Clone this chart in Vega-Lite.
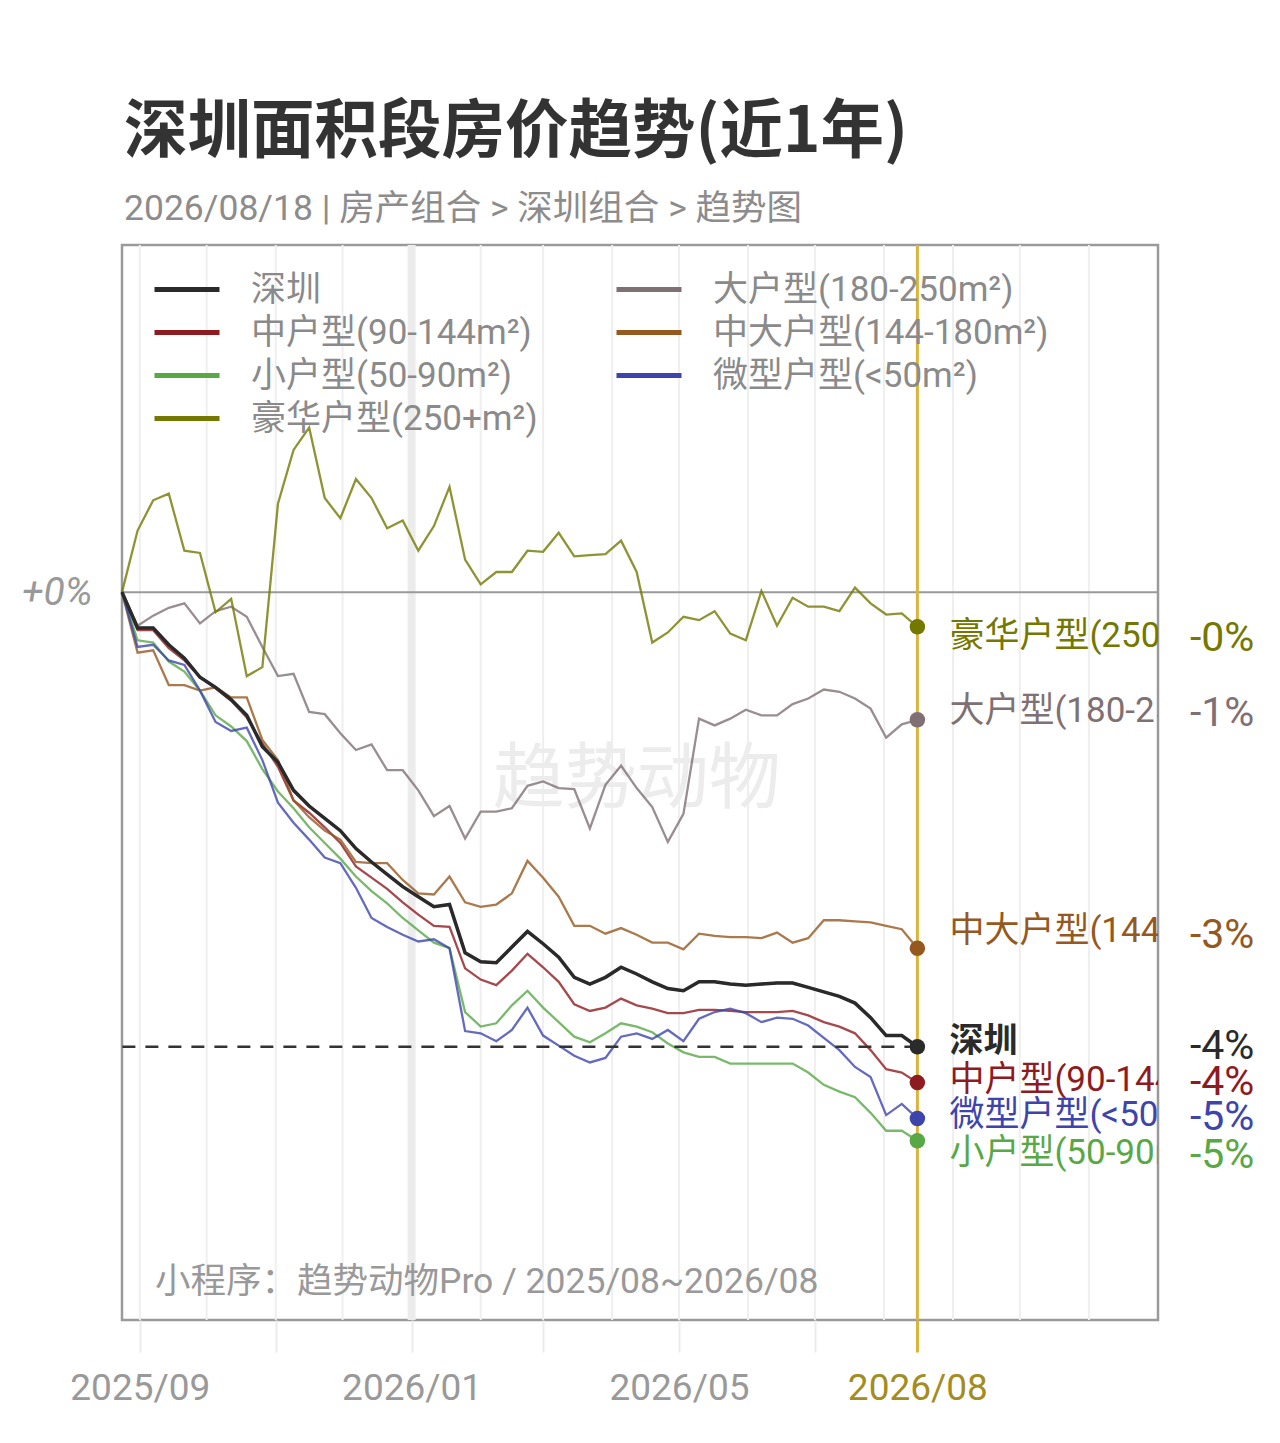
{
"$schema": "https://vega.github.io/schema/vega-lite/v6.json",
"width": 1036, "height": 1075,
"autosize": "none",
"padding": {"left": 122, "top": 245, "right": 122, "bottom": 123},
"background": "white",
"config": {
  "font": "Roboto, 'Noto Sans CJK SC', sans-serif",
  "view": {"stroke": "#9a9a9a", "strokeWidth": 2.5}
},
"title": {"text": "深圳面积段房价趋势(近1年)", "subtitle": "2026/08/18 | 房产组合 > 深圳组合 > 趋势图", "anchor": "start", "frame": "group", "orient": "top", "offset": 13, "font": "'Noto Sans CJK SC', sans-serif", "fontSize": 63.5, "fontWeight": "bold", "color": "#333333", "subtitleFont": "Roboto, 'Noto Sans CJK SC', sans-serif", "subtitleFontSize": 35.5, "subtitleColor": "#8c8c8c", "subtitlePadding": 26, "dx": 2},
"datasets": {
  "series": [
    {"k": "sz", "name": "深圳"},
    {"k": "big", "name": "大户型(180-250m²)"},
    {"k": "mid", "name": "中户型(90-144m²)"},
    {"k": "midbig", "name": "中大户型(144-180m²)"},
    {"k": "small", "name": "小户型(50-90m²)"},
    {"k": "micro", "name": "微型户型(<50m²)"},
    {"k": "lux", "name": "豪华户型(250+m²)"}
  ],
  "months": [
    {"d": "2025-09-01"}, {"d": "2025-10-01"}, {"d": "2025-11-01"}, {"d": "2025-12-01"}, {"d": "2026-01-01"}, {"d": "2026-02-01"}, {"d": "2026-03-01"}, {"d": "2026-04-01"}, {"d": "2026-05-01"}, {"d": "2026-06-01"}, {"d": "2026-07-01"}, {"d": "2026-08-01"}, {"d": "2026-09-01"}, {"d": "2026-10-01"}, {"d": "2026-11-01"}
  ],
  "main": [
    {"d": "2025-08-24", "sz": 0, "mid": 0, "small": 0, "micro": 0, "midbig": 0, "big": 0, "lux": 0},
    {"d": "2025-08-31", "sz": -0.32, "mid": -0.34, "small": -0.43, "micro": -0.49, "midbig": -0.54, "big": -0.30, "lux": 0.55},
    {"d": "2025-09-07", "sz": -0.32, "mid": -0.34, "small": -0.45, "micro": -0.47, "midbig": -0.52, "big": -0.21, "lux": 0.82},
    {"d": "2025-09-14", "sz": -0.47, "mid": -0.50, "small": -0.62, "micro": -0.61, "midbig": -0.83, "big": -0.14, "lux": 0.88},
    {"d": "2025-09-21", "sz": -0.59, "mid": -0.61, "small": -0.71, "micro": -0.65, "midbig": -0.83, "big": -0.10, "lux": 0.37},
    {"d": "2025-09-28", "sz": -0.76, "mid": -0.76, "small": -0.88, "micro": -0.88, "midbig": -0.88, "big": -0.28, "lux": 0.35},
    {"d": "2025-10-05", "sz": -0.85, "mid": -0.86, "small": -1.10, "micro": -1.16, "midbig": -0.85, "big": -0.17, "lux": -0.18},
    {"d": "2025-10-12", "sz": -0.96, "mid": -0.97, "small": -1.20, "micro": -1.24, "midbig": -0.94, "big": -0.13, "lux": -0.06},
    {"d": "2025-10-19", "sz": -1.10, "mid": -1.12, "small": -1.33, "micro": -1.21, "midbig": -0.94, "big": -0.22, "lux": -0.75},
    {"d": "2025-10-26", "sz": -1.38, "mid": -1.35, "small": -1.58, "micro": -1.50, "midbig": -1.32, "big": -0.49, "lux": -0.67},
    {"d": "2025-11-02", "sz": -1.52, "mid": -1.56, "small": -1.78, "micro": -1.88, "midbig": -1.50, "big": -0.75, "lux": 0.79},
    {"d": "2025-11-09", "sz": -1.77, "mid": -1.86, "small": -1.93, "micro": -2.06, "midbig": -1.86, "big": -0.73, "lux": 1.27},
    {"d": "2025-11-16", "sz": -1.91, "mid": -1.97, "small": -2.10, "micro": -2.21, "midbig": -2.01, "big": -1.07, "lux": 1.47},
    {"d": "2025-11-23", "sz": -2.02, "mid": -2.10, "small": -2.24, "micro": -2.37, "midbig": -2.13, "big": -1.09, "lux": 0.84},
    {"d": "2025-11-30", "sz": -2.13, "mid": -2.24, "small": -2.38, "micro": -2.42, "midbig": -2.21, "big": -1.26, "lux": 0.66},
    {"d": "2025-12-07", "sz": -2.29, "mid": -2.45, "small": -2.54, "micro": -2.64, "midbig": -2.41, "big": -1.41, "lux": 1.01},
    {"d": "2025-12-14", "sz": -2.41, "mid": -2.55, "small": -2.67, "micro": -2.91, "midbig": -2.42, "big": -1.36, "lux": 0.84},
    {"d": "2025-12-21", "sz": -2.52, "mid": -2.65, "small": -2.78, "micro": -2.99, "midbig": -2.42, "big": -1.59, "lux": 0.57},
    {"d": "2025-12-28", "sz": -2.63, "mid": -2.77, "small": -2.91, "micro": -3.06, "midbig": -2.57, "big": -1.59, "lux": 0.64},
    {"d": "2026-01-04", "sz": -2.72, "mid": -2.88, "small": -3.02, "micro": -3.12, "midbig": -2.69, "big": -1.77, "lux": 0.37},
    {"d": "2026-01-11", "sz": -2.81, "mid": -2.98, "small": -3.13, "micro": -3.10, "midbig": -2.70, "big": -2.00, "lux": 0.59},
    {"d": "2026-01-18", "sz": -2.79, "mid": -2.99, "small": -3.18, "micro": -3.18, "midbig": -2.54, "big": -1.91, "lux": 0.94},
    {"d": "2026-01-25", "sz": -3.22, "mid": -3.36, "small": -3.75, "micro": -3.92, "midbig": -2.77, "big": -2.20, "lux": 0.29},
    {"d": "2026-02-01", "sz": -3.30, "mid": -3.46, "small": -3.88, "micro": -3.94, "midbig": -2.81, "big": -1.96, "lux": 0.07},
    {"d": "2026-02-08", "sz": -3.31, "mid": -3.51, "small": -3.85, "micro": -4.01, "midbig": -2.79, "big": -1.96, "lux": 0.18},
    {"d": "2026-02-15", "sz": -3.17, "mid": -3.38, "small": -3.69, "micro": -3.91, "midbig": -2.69, "big": -1.93, "lux": 0.18},
    {"d": "2026-02-22", "sz": -3.03, "mid": -3.23, "small": -3.56, "micro": -3.71, "midbig": -2.40, "big": -1.73, "lux": 0.37},
    {"d": "2026-03-01", "sz": -3.14, "mid": -3.35, "small": -3.71, "micro": -3.96, "midbig": -2.55, "big": -1.69, "lux": 0.36},
    {"d": "2026-03-08", "sz": -3.26, "mid": -3.48, "small": -3.84, "micro": -4.05, "midbig": -2.72, "big": -1.75, "lux": 0.53},
    {"d": "2026-03-15", "sz": -3.44, "mid": -3.68, "small": -3.97, "micro": -4.14, "midbig": -2.98, "big": -1.76, "lux": 0.32},
    {"d": "2026-03-22", "sz": -3.50, "mid": -3.74, "small": -4.02, "micro": -4.20, "midbig": -2.98, "big": -2.11, "lux": 0.33},
    {"d": "2026-03-29", "sz": -3.44, "mid": -3.71, "small": -3.94, "micro": -4.16, "midbig": -3.05, "big": -1.72, "lux": 0.34},
    {"d": "2026-04-05", "sz": -3.35, "mid": -3.63, "small": -3.85, "micro": -3.97, "midbig": -3.00, "big": -1.55, "lux": 0.46},
    {"d": "2026-04-12", "sz": -3.41, "mid": -3.69, "small": -3.88, "micro": -3.94, "midbig": -3.06, "big": -1.75, "lux": 0.18},
    {"d": "2026-04-19", "sz": -3.48, "mid": -3.72, "small": -3.93, "micro": -3.99, "midbig": -3.13, "big": -1.92, "lux": -0.45},
    {"d": "2026-04-26", "sz": -3.54, "mid": -3.76, "small": -4.03, "micro": -3.91, "midbig": -3.13, "big": -2.23, "lux": -0.36},
    {"d": "2026-05-03", "sz": -3.56, "mid": -3.76, "small": -4.11, "micro": -4.01, "midbig": -3.19, "big": -1.98, "lux": -0.22},
    {"d": "2026-05-10", "sz": -3.48, "mid": -3.73, "small": -4.15, "micro": -3.81, "midbig": -3.05, "big": -1.13, "lux": -0.25},
    {"d": "2026-05-17", "sz": -3.48, "mid": -3.73, "small": -4.15, "micro": -3.75, "midbig": -3.07, "big": -1.19, "lux": -0.17},
    {"d": "2026-05-24", "sz": -3.50, "mid": -3.74, "small": -4.21, "micro": -3.72, "midbig": -3.08, "big": -1.13, "lux": -0.37},
    {"d": "2026-05-31", "sz": -3.51, "mid": -3.75, "small": -4.21, "micro": -3.76, "midbig": -3.08, "big": -1.05, "lux": -0.43},
    {"d": "2026-06-07", "sz": -3.50, "mid": -3.75, "small": -4.21, "micro": -3.84, "midbig": -3.09, "big": -1.10, "lux": 0.01},
    {"d": "2026-06-14", "sz": -3.49, "mid": -3.75, "small": -4.21, "micro": -3.80, "midbig": -3.04, "big": -1.10, "lux": -0.30},
    {"d": "2026-06-21", "sz": -3.49, "mid": -3.74, "small": -4.21, "micro": -3.81, "midbig": -3.13, "big": -1.00, "lux": -0.05},
    {"d": "2026-06-28", "sz": -3.53, "mid": -3.78, "small": -4.29, "micro": -3.87, "midbig": -3.09, "big": -0.95, "lux": -0.13},
    {"d": "2026-07-05", "sz": -3.57, "mid": -3.84, "small": -4.40, "micro": -3.98, "midbig": -2.93, "big": -0.87, "lux": -0.13},
    {"d": "2026-07-12", "sz": -3.61, "mid": -3.88, "small": -4.46, "micro": -4.09, "midbig": -2.93, "big": -0.89, "lux": -0.17},
    {"d": "2026-07-19", "sz": -3.67, "mid": -3.94, "small": -4.51, "micro": -4.24, "midbig": -2.94, "big": -0.95, "lux": 0.04},
    {"d": "2026-07-26", "sz": -3.80, "mid": -4.09, "small": -4.65, "micro": -4.33, "midbig": -2.95, "big": -1.04, "lux": -0.10},
    {"d": "2026-08-02", "sz": -3.96, "mid": -4.26, "small": -4.81, "micro": -4.67, "midbig": -2.98, "big": -1.30, "lux": -0.20},
    {"d": "2026-08-09", "sz": -3.96, "mid": -4.29, "small": -4.81, "micro": -4.57, "midbig": -3.01, "big": -1.18, "lux": -0.19},
    {"d": "2026-08-16", "sz": -4.06, "mid": -4.38, "small": -4.90, "micro": -4.70, "midbig": -3.18, "big": -1.14, "lux": -0.31}
  ]
},
"layer": [
  {
    "data": {"name": "months"},
    "mark": {"type": "rule", "color": "#efefef", "strokeWidth": 2},
    "encoding": {"x": {"field": "d", "type": "temporal"}}
  },
  {
    "data": {"values": [{"d": "2026-01-01"}]},
    "mark": {"type": "rule", "color": "#ececec", "strokeWidth": 8},
    "encoding": {"x": {"field": "d", "type": "temporal"}}
  },
  {
    "data": {"values": [{"d": "2026-04-12", "v": -1.68, "t": "趋势动物"}]},
    "mark": {"type": "text", "fontSize": 72, "color": "#ececec", "align": "center", "baseline": "middle", "font": "'Noto Sans CJK SC', sans-serif"},
    "encoding": {"x": {"field": "d", "type": "temporal"}, "y": {"field": "v", "type": "quantitative"}, "text": {"field": "t"}}
  },
  {
    "data": {"values": [{"d": "2025-08-24", "v": -6.16, "t": "小程序：趋势动物Pro / 2025/08~2026/08"}]},
    "mark": {"type": "text", "fontSize": 35.5, "color": "#999999", "align": "left", "baseline": "middle", "dx": 33},
    "encoding": {"x": {"field": "d", "type": "temporal"}, "y": {"field": "v", "type": "quantitative"}, "text": {"field": "t"}}
  },
  {
    "data": {"values": [{"z": 0}]},
    "mark": {"type": "rule", "color": "#9a9a9a", "strokeWidth": 2},
    "encoding": {"y": {"field": "z", "type": "quantitative"}}
  },
  {
    "data": {"values": [{"d": "2026-08-16"}]},
    "mark": {"type": "rule", "color": "#dab43c", "strokeWidth": 3},
    "encoding": {"x": {"field": "d", "type": "temporal"}}
  },
  {
    "data": {"name": "main"},
    "transform": [
      {"fold": ["sz", "big", "mid", "midbig", "small", "micro", "lux"], "as": ["k", "v"]},
      {"lookup": "k", "from": {"data": {"name": "series"}, "key": "k", "fields": ["name"]}}
    ],
    "layer": [
      {
        "mark": {"type": "line", "strokeWidth": 2.3, "strokeOpacity": 0.8},
        "encoding": {
          "x": {"field": "d", "type": "temporal", "title": null,
            "scale": {"type": "utc", "domain": [{"year": 2025, "month": 8, "date": 24, "utc": true}, {"year": 2026, "month": 12, "date": 2, "utc": true}]},
            "axis": {
              "values": [{"year": 2025, "month": 9, "date": 1, "utc": true}, {"year": 2025, "month": 11, "date": 1, "utc": true}, {"year": 2026, "month": 1, "date": 1, "utc": true}, {"year": 2026, "month": 3, "date": 1, "utc": true}, {"year": 2026, "month": 5, "date": 1, "utc": true}, {"year": 2026, "month": 7, "date": 1, "utc": true}, {"year": 2026, "month": 8, "date": 16, "utc": true}],
              "labelExpr": "indexof([8,0,4,7], utcmonth(datum.value)) >= 0 ? utcFormat(datum.value, '%Y/%m') : ''",
              "labelFontSize": 37,
              "labelColor": {"condition": {"test": "utcmonth(datum.value) == 7", "value": "#a38d1f"}, "value": "#999999"},
              "tickColor": {"condition": {"test": "utcmonth(datum.value) == 7", "value": "#dab43c"}, "value": "#ebebeb"},
              "tickWidth": {"condition": {"test": "utcmonth(datum.value) == 7", "value": 3}, "value": 2},
              "tickSize": 32, "labelPadding": 18, "domain": false, "grid": false, "labelOverlap": false, "labelFlush": false, "labelBound": false
            }
          },
          "y": {"field": "v", "type": "quantitative", "title": null,
            "scale": {"domain": [-6.5, 3.1], "nice": false, "zero": false},
            "axis": {"values": [0], "labelExpr": "'+0%'", "labelFontSize": 39, "labelFontStyle": "italic", "labelColor": "#999999", "ticks": false, "domain": false, "grid": false, "labelPadding": 30}
          },
          "color": {"field": "name", "type": "nominal",
            "scale": {"domain": ["深圳", "中户型(90-144m²)", "小户型(50-90m²)", "豪华户型(250+m²)", "大户型(180-250m²)", "中大户型(144-180m²)", "微型户型(<50m²)"],
                      "range": ["#2a2a2a", "#8e1b1f", "#58a845", "#737800", "#7f7073", "#95591f", "#3d45ad"]},
            "legend": {"orient": "none", "legendX": 30, "legendY": 23, "columns": 2, "title": null, "symbolType": "stroke", "symbolSize": 4225, "symbolStrokeWidth": 5, "symbolOpacity": 1, "labelFontSize": 35, "labelColor": "#8a8a8a", "labelOffset": 29, "clipHeight": 43, "rowPadding": 0, "columnPadding": 76, "padding": 0, "labelLimit": 500}
          }
        }
      },
      {
        "transform": [{"filter": "datum.k == 'sz'"}],
        "mark": {"type": "line", "strokeWidth": 3.5},
        "encoding": {
          "x": {"field": "d", "type": "temporal"},
          "y": {"field": "v", "type": "quantitative"},
          "color": {"field": "name", "type": "nominal", "legend": null}
        }
      },
      {
        "transform": [{"filter": {"field": "d", "equal": {"year": 2026, "month": 8, "date": 16, "utc": true}}}],
        "layer": [
          {
            "transform": [{"filter": "datum.k == 'sz'"}],
            "mark": {"type": "rule", "color": "#333333", "strokeWidth": 2.5, "strokeDash": [13, 10]},
            "encoding": {
              "x": {"field": "d", "type": "temporal"},
              "x2": {"datum": {"year": 2025, "month": 8, "date": 24, "utc": true}},
              "y": {"field": "v", "type": "quantitative"}
            }
          },
          {
            "mark": {"type": "circle", "size": 240, "opacity": 1},
            "encoding": {
              "x": {"field": "d", "type": "temporal"},
              "y": {"field": "v", "type": "quantitative"},
              "color": {"field": "name", "type": "nominal", "legend": null}
            }
          },
          {
            "transform": [{"filter": "datum.k == 'sz'"}],
            "mark": {"type": "text", "align": "left", "baseline": "middle", "dx": 32, "dy": -5, "fontSize": 34, "fontWeight": "bold", "clip": true},
            "encoding": {"x": {"field": "d", "type": "temporal"}, "y": {"field": "v", "type": "quantitative"}, "text": {"field": "name"}, "color": {"field": "name", "type": "nominal", "legend": null}}
          },
          {
            "transform": [{"filter": "datum.k == 'mid' || datum.k == 'micro'"}],
            "mark": {"type": "text", "align": "left", "baseline": "middle", "dx": 32, "dy": -3, "fontSize": 35, "clip": true},
            "encoding": {"x": {"field": "d", "type": "temporal"}, "y": {"field": "v", "type": "quantitative"}, "text": {"field": "name"}, "color": {"field": "name", "type": "nominal", "legend": null}}
          },
          {
            "transform": [{"filter": "datum.k == 'small'"}],
            "mark": {"type": "text", "align": "left", "baseline": "middle", "dx": 32, "dy": 12, "fontSize": 35, "clip": true},
            "encoding": {"x": {"field": "d", "type": "temporal"}, "y": {"field": "v", "type": "quantitative"}, "text": {"field": "name"}, "color": {"field": "name", "type": "nominal", "legend": null}}
          },
          {
            "transform": [{"filter": "datum.k == 'lux'"}],
            "mark": {"type": "text", "align": "left", "baseline": "middle", "dx": 32, "dy": 9, "fontSize": 35, "clip": true},
            "encoding": {"x": {"field": "d", "type": "temporal"}, "y": {"field": "v", "type": "quantitative"}, "text": {"field": "name"}, "color": {"field": "name", "type": "nominal", "legend": null}}
          },
          {
            "transform": [{"filter": "datum.k == 'big'"}],
            "mark": {"type": "text", "align": "left", "baseline": "middle", "dx": 32, "dy": -9, "fontSize": 35, "clip": true},
            "encoding": {"x": {"field": "d", "type": "temporal"}, "y": {"field": "v", "type": "quantitative"}, "text": {"field": "name"}, "color": {"field": "name", "type": "nominal", "legend": null}}
          },
          {
            "transform": [{"filter": "datum.k == 'midbig'"}],
            "mark": {"type": "text", "align": "left", "baseline": "middle", "dx": 32, "dy": -17, "fontSize": 35, "clip": true},
            "encoding": {"x": {"field": "d", "type": "temporal"}, "y": {"field": "v", "type": "quantitative"}, "text": {"field": "name"}, "color": {"field": "name", "type": "nominal", "legend": null}}
          },
          {
            "transform": [{"calculate": "'-' + format(abs(datum.v), '.0f') + '%'", "as": "pct"}],
            "layer": [
              {
                "transform": [{"filter": "datum.k == 'sz' || datum.k == 'mid' || datum.k == 'micro'"}],
                "mark": {"type": "text", "align": "right", "baseline": "middle", "dx": 337, "dy": 0, "fontSize": 41},
                "encoding": {"x": {"field": "d", "type": "temporal"}, "y": {"field": "v", "type": "quantitative"}, "text": {"field": "pct"}, "color": {"field": "name", "type": "nominal", "legend": null}}
              },
              {
                "transform": [{"filter": "datum.k == 'small'"}],
                "mark": {"type": "text", "align": "right", "baseline": "middle", "dx": 337, "dy": 15, "fontSize": 41},
                "encoding": {"x": {"field": "d", "type": "temporal"}, "y": {"field": "v", "type": "quantitative"}, "text": {"field": "pct"}, "color": {"field": "name", "type": "nominal", "legend": null}}
              },
              {
                "transform": [{"filter": "datum.k == 'lux'"}],
                "mark": {"type": "text", "align": "right", "baseline": "middle", "dx": 337, "dy": 12, "fontSize": 41},
                "encoding": {"x": {"field": "d", "type": "temporal"}, "y": {"field": "v", "type": "quantitative"}, "text": {"field": "pct"}, "color": {"field": "name", "type": "nominal", "legend": null}}
              },
              {
                "transform": [{"filter": "datum.k == 'big'"}],
                "mark": {"type": "text", "align": "right", "baseline": "middle", "dx": 337, "dy": -6, "fontSize": 41},
                "encoding": {"x": {"field": "d", "type": "temporal"}, "y": {"field": "v", "type": "quantitative"}, "text": {"field": "pct"}, "color": {"field": "name", "type": "nominal", "legend": null}}
              },
              {
                "transform": [{"filter": "datum.k == 'midbig'"}],
                "mark": {"type": "text", "align": "right", "baseline": "middle", "dx": 337, "dy": -12, "fontSize": 41},
                "encoding": {"x": {"field": "d", "type": "temporal"}, "y": {"field": "v", "type": "quantitative"}, "text": {"field": "pct"}, "color": {"field": "name", "type": "nominal", "legend": null}}
              }
            ]
          }
        ]
      }
    ]
  }
]
}
